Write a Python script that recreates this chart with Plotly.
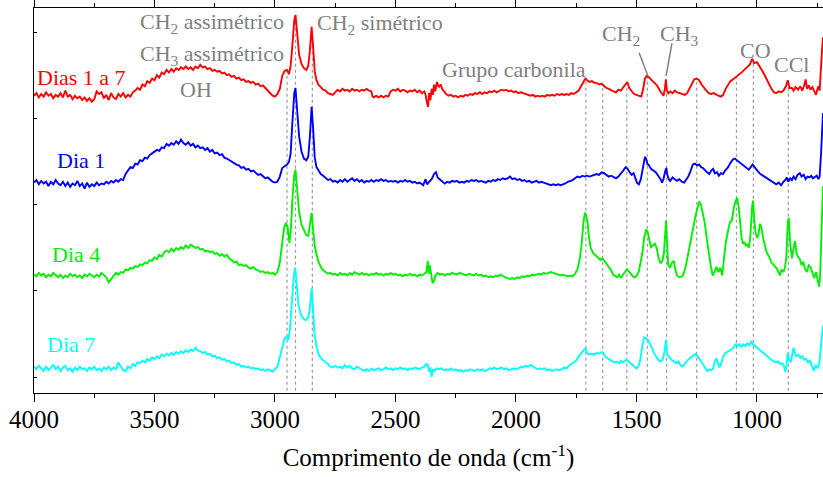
import numpy as np
import plotly.graph_objects as go

# FTIR spectra (wavenumber in cm-1, stacked absorbance in arbitrary units)
dias_1a7 = [
    (4000, 3.27), (3990, 3.30), (3980, 3.25), (3970, 3.29), (3960, 3.26), (3950, 3.31), (3940, 3.27),
    (3930, 3.29), (3920, 3.24), (3910, 3.28), (3900, 3.26), (3890, 3.30), (3880, 3.25), (3870, 3.33),
    (3860, 3.26), (3850, 3.28), (3840, 3.23), (3830, 3.27), (3820, 3.24), (3810, 3.26), (3800, 3.22),
    (3790, 3.25), (3780, 3.21), (3770, 3.24), (3760, 3.20), (3750, 3.23), (3740, 3.32), (3730, 3.29),
    (3720, 3.31), (3710, 3.24), (3700, 3.28), (3690, 3.22), (3680, 3.30), (3670, 3.25), (3660, 3.23),
    (3650, 3.29), (3640, 3.26), (3630, 3.30), (3620, 3.25), (3610, 3.28), (3600, 3.26), (3590, 3.31),
    (3580, 3.33), (3570, 3.36), (3560, 3.34), (3550, 3.40), (3540, 3.38), (3530, 3.44), (3520, 3.42),
    (3510, 3.47), (3500, 3.45), (3490, 3.51), (3480, 3.48), (3470, 3.54), (3460, 3.52), (3450, 3.57),
    (3440, 3.54), (3430, 3.58), (3420, 3.55), (3410, 3.59), (3400, 3.57), (3390, 3.60), (3380, 3.58),
    (3370, 3.61), (3360, 3.58), (3350, 3.60), (3340, 3.57), (3330, 3.61), (3320, 3.59), (3310, 3.63),
    (3300, 3.60), (3290, 3.61), (3280, 3.58), (3270, 3.59), (3260, 3.56), (3250, 3.57), (3240, 3.55),
    (3230, 3.56), (3220, 3.53), (3210, 3.54), (3200, 3.51), (3190, 3.52), (3180, 3.49), (3170, 3.50),
    (3160, 3.47), (3150, 3.48), (3140, 3.45), (3130, 3.46), (3120, 3.43), (3110, 3.44), (3100, 3.42),
    (3090, 3.43), (3080, 3.40), (3070, 3.41), (3060, 3.38), (3050, 3.39), (3040, 3.36), (3030, 3.33),
    (3020, 3.30), (3010, 3.27), (3000, 3.26), (2990, 3.29), (2980, 3.35), (2970, 3.50), (2960, 3.56),
    (2950, 3.57), (2942, 3.52), (2935, 3.62), (2928, 3.85), (2920, 4.15), (2915, 4.21), (2908, 3.98),
    (2900, 3.75), (2890, 3.64), (2880, 3.59), (2870, 3.57), (2862, 3.62), (2855, 3.80), (2848, 4.07),
    (2842, 3.85), (2835, 3.55), (2828, 3.45), (2820, 3.40), (2810, 3.37), (2800, 3.34), (2790, 3.33),
    (2780, 3.30), (2770, 3.29), (2760, 3.28), (2750, 3.31), (2740, 3.34), (2730, 3.32), (2720, 3.35),
    (2710, 3.33), (2700, 3.34), (2690, 3.32), (2680, 3.35), (2670, 3.33), (2660, 3.34), (2650, 3.32),
    (2640, 3.34), (2630, 3.33), (2620, 3.35), (2610, 3.33), (2600, 3.32), (2595, 3.26), (2590, 3.25),
    (2580, 3.27), (2570, 3.25), (2560, 3.27), (2550, 3.25), (2540, 3.27), (2530, 3.26), (2520, 3.32),
    (2510, 3.34), (2500, 3.33), (2490, 3.35), (2480, 3.32), (2470, 3.34), (2460, 3.33), (2450, 3.31),
    (2440, 3.33), (2430, 3.32), (2420, 3.34), (2410, 3.31), (2400, 3.33), (2390, 3.30), (2380, 3.32),
    (2375, 3.28), (2370, 3.20), (2365, 3.14), (2360, 3.30), (2355, 3.22), (2350, 3.35), (2345, 3.28),
    (2340, 3.40), (2335, 3.32), (2328, 3.43), (2320, 3.37), (2312, 3.40), (2305, 3.34), (2298, 3.32),
    (2290, 3.29), (2280, 3.27), (2270, 3.28), (2260, 3.26), (2250, 3.27), (2240, 3.25), (2230, 3.27),
    (2220, 3.26), (2210, 3.28), (2200, 3.27), (2190, 3.29), (2180, 3.28), (2170, 3.30), (2160, 3.29),
    (2150, 3.31), (2140, 3.29), (2130, 3.31), (2120, 3.30), (2110, 3.32), (2100, 3.31), (2090, 3.33),
    (2080, 3.31), (2070, 3.33), (2060, 3.34), (2050, 3.33), (2040, 3.34), (2030, 3.32), (2020, 3.33),
    (2010, 3.31), (2000, 3.32), (1990, 3.30), (1980, 3.31), (1970, 3.30), (1960, 3.29), (1950, 3.28),
    (1940, 3.27), (1930, 3.28), (1920, 3.26), (1910, 3.27), (1900, 3.26), (1890, 3.27), (1880, 3.26),
    (1870, 3.28), (1860, 3.27), (1850, 3.28), (1840, 3.27), (1830, 3.29), (1820, 3.28), (1810, 3.29),
    (1800, 3.28), (1790, 3.29), (1780, 3.28), (1770, 3.30), (1760, 3.29), (1750, 3.31), (1740, 3.33),
    (1730, 3.38), (1720, 3.44), (1712, 3.47), (1705, 3.45), (1695, 3.43), (1685, 3.44), (1675, 3.42),
    (1665, 3.42), (1655, 3.40), (1645, 3.41), (1635, 3.38), (1625, 3.36), (1615, 3.35), (1605, 3.33),
    (1595, 3.32), (1585, 3.31), (1575, 3.34), (1565, 3.33), (1555, 3.37), (1545, 3.41), (1538, 3.43),
    (1530, 3.36), (1520, 3.33), (1510, 3.29), (1500, 3.28), (1490, 3.27), (1480, 3.26), (1472, 3.35),
    (1465, 3.47), (1458, 3.50), (1450, 3.49), (1440, 3.46), (1432, 3.44), (1424, 3.42), (1415, 3.39),
    (1405, 3.34), (1395, 3.29), (1388, 3.27), (1382, 3.35), (1378, 3.46), (1374, 3.33), (1368, 3.30),
    (1360, 3.32), (1350, 3.30), (1341, 3.33), (1332, 3.31), (1320, 3.30), (1310, 3.29), (1300, 3.28),
    (1290, 3.30), (1280, 3.36), (1270, 3.42), (1260, 3.46), (1250, 3.47), (1240, 3.45), (1230, 3.40),
    (1220, 3.36), (1210, 3.33), (1200, 3.30), (1190, 3.29), (1180, 3.30), (1170, 3.28), (1160, 3.27),
    (1150, 3.26), (1140, 3.28), (1130, 3.35), (1120, 3.40), (1110, 3.44), (1100, 3.46), (1090, 3.48),
    (1080, 3.50), (1070, 3.53), (1060, 3.55), (1050, 3.58), (1040, 3.60), (1030, 3.63), (1020, 3.70),
    (1012, 3.65), (1000, 3.66), (990, 3.62), (980, 3.57), (970, 3.52), (960, 3.46), (950, 3.40),
    (940, 3.35), (930, 3.31), (920, 3.30), (910, 3.32), (900, 3.31), (890, 3.33), (880, 3.38),
    (872, 3.45), (865, 3.36), (855, 3.36), (848, 3.33), (840, 3.37), (830, 3.34), (820, 3.38),
    (812, 3.33), (805, 3.38), (798, 3.46), (792, 3.35), (785, 3.39), (778, 3.34), (770, 3.37),
    (762, 3.32), (755, 3.28), (750, 3.34), (745, 3.38), (740, 3.33), (734, 3.69), (730, 3.80),
    (726, 3.95),
]

dia_1 = [
    (4000, 2.26), (3990, 2.29), (3980, 2.24), (3970, 2.28), (3960, 2.25), (3950, 2.27), (3940, 2.22),
    (3930, 2.27), (3920, 2.24), (3910, 2.29), (3900, 2.25), (3890, 2.23), (3880, 2.27), (3870, 2.22),
    (3860, 2.26), (3850, 2.21), (3840, 2.25), (3830, 2.23), (3820, 2.28), (3810, 2.22), (3800, 2.25),
    (3790, 2.19), (3780, 2.26), (3770, 2.21), (3760, 2.24), (3750, 2.22), (3740, 2.26), (3730, 2.23),
    (3720, 2.25), (3710, 2.24), (3700, 2.27), (3690, 2.25), (3680, 2.28), (3670, 2.26), (3660, 2.29),
    (3650, 2.27), (3640, 2.30), (3630, 2.29), (3620, 2.36), (3610, 2.40), (3600, 2.44), (3590, 2.43),
    (3580, 2.48), (3570, 2.47), (3560, 2.52), (3550, 2.51), (3540, 2.55), (3530, 2.54), (3520, 2.58),
    (3510, 2.60), (3500, 2.62), (3490, 2.64), (3480, 2.63), (3470, 2.67), (3460, 2.66), (3450, 2.71),
    (3440, 2.69), (3430, 2.72), (3420, 2.70), (3410, 2.74), (3400, 2.71), (3390, 2.76), (3380, 2.72),
    (3370, 2.70), (3360, 2.73), (3350, 2.69), (3340, 2.71), (3330, 2.67), (3320, 2.69), (3310, 2.66),
    (3300, 2.67), (3290, 2.64), (3280, 2.66), (3270, 2.62), (3260, 2.64), (3250, 2.60), (3240, 2.61),
    (3230, 2.58), (3220, 2.59), (3210, 2.55), (3200, 2.54), (3190, 2.52), (3180, 2.50), (3170, 2.49),
    (3160, 2.47), (3150, 2.46), (3140, 2.43), (3130, 2.44), (3120, 2.41), (3110, 2.42), (3100, 2.39),
    (3090, 2.40), (3080, 2.37), (3070, 2.35), (3060, 2.36), (3050, 2.33), (3040, 2.31), (3030, 2.32),
    (3020, 2.29), (3010, 2.27), (3000, 2.26), (2990, 2.27), (2980, 2.33), (2970, 2.43), (2960, 2.45),
    (2950, 2.47), (2942, 2.50), (2935, 2.60), (2928, 2.95), (2920, 3.30), (2915, 3.36), (2908, 3.10),
    (2900, 2.80), (2890, 2.62), (2880, 2.54), (2870, 2.52), (2862, 2.56), (2855, 2.80), (2848, 3.14),
    (2842, 2.90), (2835, 2.55), (2828, 2.44), (2820, 2.40), (2810, 2.36), (2800, 2.34), (2790, 2.31),
    (2780, 2.29), (2770, 2.30), (2760, 2.27), (2750, 2.28), (2740, 2.26), (2730, 2.29), (2720, 2.27),
    (2710, 2.30), (2700, 2.27), (2690, 2.29), (2680, 2.31), (2670, 2.28), (2660, 2.30), (2650, 2.27),
    (2640, 2.29), (2630, 2.26), (2620, 2.28), (2610, 2.27), (2600, 2.29), (2590, 2.27), (2580, 2.29),
    (2570, 2.28), (2560, 2.30), (2550, 2.28), (2540, 2.29), (2530, 2.27), (2520, 2.28), (2510, 2.27),
    (2500, 2.28), (2490, 2.26), (2480, 2.28), (2470, 2.27), (2460, 2.29), (2450, 2.27), (2440, 2.28),
    (2430, 2.26), (2420, 2.27), (2410, 2.25), (2400, 2.26), (2390, 2.24), (2385, 2.23), (2375, 2.30),
    (2369, 2.24), (2360, 2.27), (2350, 2.30), (2340, 2.36), (2332, 2.38), (2325, 2.32), (2315, 2.29),
    (2305, 2.27), (2295, 2.25), (2285, 2.27), (2275, 2.26), (2265, 2.28), (2255, 2.27), (2245, 2.28),
    (2235, 2.26), (2225, 2.27), (2215, 2.26), (2205, 2.28), (2195, 2.27), (2185, 2.29), (2175, 2.28),
    (2165, 2.29), (2155, 2.27), (2145, 2.28), (2135, 2.27), (2125, 2.26), (2115, 2.28), (2105, 2.27),
    (2095, 2.29), (2085, 2.28), (2075, 2.30), (2065, 2.29), (2055, 2.31), (2045, 2.30), (2035, 2.31),
    (2025, 2.33), (2015, 2.30), (2005, 2.31), (1995, 2.29), (1985, 2.30), (1975, 2.28), (1965, 2.29),
    (1955, 2.27), (1945, 2.28), (1935, 2.26), (1925, 2.27), (1915, 2.28), (1905, 2.26), (1895, 2.27),
    (1885, 2.26), (1875, 2.25), (1865, 2.24), (1855, 2.23), (1845, 2.24), (1835, 2.23), (1825, 2.24),
    (1815, 2.23), (1805, 2.24), (1795, 2.25), (1785, 2.27), (1775, 2.28), (1765, 2.29), (1755, 2.31),
    (1745, 2.33), (1735, 2.32), (1725, 2.34), (1715, 2.33), (1705, 2.34), (1695, 2.33), (1685, 2.34),
    (1675, 2.35), (1665, 2.36), (1655, 2.35), (1645, 2.38), (1635, 2.37), (1625, 2.35), (1615, 2.33),
    (1605, 2.34), (1595, 2.32), (1585, 2.31), (1575, 2.33), (1565, 2.36), (1555, 2.40), (1545, 2.44),
    (1537, 2.42), (1528, 2.38), (1520, 2.35), (1512, 2.37), (1505, 2.32), (1498, 2.26), (1490, 2.24),
    (1482, 2.30), (1472, 2.45), (1465, 2.56), (1460, 2.54), (1455, 2.48), (1448, 2.46), (1440, 2.42),
    (1430, 2.40), (1420, 2.38), (1410, 2.34), (1400, 2.30), (1394, 2.26), (1388, 2.30), (1380, 2.40),
    (1376, 2.43), (1372, 2.35), (1366, 2.30), (1360, 2.28), (1350, 2.32), (1341, 2.30), (1332, 2.28),
    (1322, 2.30), (1312, 2.27), (1302, 2.26), (1295, 2.29), (1285, 2.33), (1275, 2.40), (1266, 2.47),
    (1257, 2.48), (1248, 2.46), (1240, 2.47), (1232, 2.44), (1224, 2.43), (1215, 2.40), (1207, 2.38),
    (1198, 2.36), (1190, 2.40), (1182, 2.42), (1175, 2.37), (1166, 2.38), (1158, 2.34), (1150, 2.37),
    (1141, 2.36), (1132, 2.40), (1120, 2.44), (1110, 2.49), (1100, 2.53), (1092, 2.54), (1083, 2.52),
    (1075, 2.50), (1066, 2.48), (1058, 2.46), (1050, 2.44), (1042, 2.43), (1034, 2.41), (1026, 2.44),
    (1018, 2.47), (1010, 2.44), (1000, 2.40), (990, 2.37), (980, 2.35), (970, 2.33), (960, 2.32),
    (950, 2.30), (940, 2.28), (930, 2.26), (920, 2.24), (910, 2.26), (900, 2.23), (890, 2.27),
    (882, 2.29), (876, 2.32), (870, 2.27), (862, 2.31), (855, 2.29), (848, 2.33), (840, 2.30),
    (832, 2.35), (822, 2.37), (815, 2.33), (806, 2.35), (798, 2.30), (790, 2.33), (782, 2.32),
    (775, 2.34), (768, 2.31), (760, 2.33), (752, 2.34), (745, 2.30), (740, 2.33), (734, 2.60),
    (730, 2.85), (726, 3.07),
]

dia_4 = [
    (4000, 1.19), (3990, 1.17), (3980, 1.21), (3970, 1.18), (3960, 1.20), (3950, 1.16), (3940, 1.19),
    (3930, 1.17), (3920, 1.21), (3910, 1.18), (3900, 1.16), (3890, 1.19), (3880, 1.15), (3870, 1.18),
    (3860, 1.16), (3850, 1.20), (3840, 1.17), (3830, 1.19), (3820, 1.16), (3810, 1.18), (3800, 1.15),
    (3790, 1.19), (3780, 1.17), (3770, 1.20), (3760, 1.18), (3750, 1.16), (3740, 1.19), (3730, 1.17),
    (3720, 1.21), (3710, 1.18), (3700, 1.16), (3690, 1.10), (3680, 1.14), (3670, 1.17), (3660, 1.21),
    (3650, 1.19), (3640, 1.22), (3630, 1.21), (3620, 1.25), (3610, 1.24), (3600, 1.27), (3590, 1.26),
    (3580, 1.29), (3570, 1.28), (3560, 1.31), (3550, 1.30), (3540, 1.33), (3530, 1.32), (3520, 1.36),
    (3510, 1.35), (3500, 1.39), (3490, 1.37), (3480, 1.42), (3470, 1.40), (3460, 1.45), (3450, 1.47),
    (3440, 1.45), (3430, 1.49), (3420, 1.46), (3410, 1.50), (3400, 1.48), (3390, 1.51), (3380, 1.49),
    (3370, 1.53), (3360, 1.50), (3350, 1.54), (3340, 1.52), (3330, 1.50), (3320, 1.51), (3310, 1.48),
    (3300, 1.49), (3290, 1.46), (3280, 1.47), (3270, 1.45), (3260, 1.46), (3250, 1.43), (3240, 1.44),
    (3230, 1.41), (3220, 1.43), (3210, 1.40), (3200, 1.42), (3190, 1.38), (3180, 1.36), (3170, 1.33),
    (3160, 1.34), (3150, 1.30), (3140, 1.31), (3130, 1.29), (3120, 1.30), (3110, 1.27), (3100, 1.26),
    (3090, 1.28), (3080, 1.25), (3070, 1.24), (3060, 1.22), (3050, 1.23), (3040, 1.21), (3030, 1.22),
    (3020, 1.20), (3010, 1.21), (3000, 1.19), (2990, 1.22), (2980, 1.33), (2970, 1.55), (2962, 1.74),
    (2955, 1.79), (2948, 1.75), (2940, 1.56), (2934, 1.72), (2928, 2.05), (2920, 2.35), (2915, 2.41),
    (2908, 2.15), (2900, 1.92), (2890, 1.77), (2880, 1.70), (2870, 1.65), (2862, 1.64), (2855, 1.75),
    (2848, 1.91), (2842, 1.72), (2835, 1.52), (2828, 1.43), (2820, 1.34), (2810, 1.28), (2800, 1.24),
    (2790, 1.22), (2780, 1.20), (2770, 1.21), (2760, 1.19), (2750, 1.20), (2740, 1.18), (2730, 1.21),
    (2720, 1.19), (2710, 1.20), (2700, 1.18), (2690, 1.21), (2680, 1.19), (2670, 1.22), (2660, 1.20),
    (2650, 1.19), (2640, 1.21), (2630, 1.19), (2620, 1.20), (2610, 1.18), (2600, 1.20), (2590, 1.19),
    (2580, 1.21), (2570, 1.19), (2560, 1.20), (2550, 1.18), (2540, 1.20), (2530, 1.19), (2520, 1.21),
    (2510, 1.19), (2500, 1.20), (2490, 1.18), (2480, 1.19), (2470, 1.17), (2460, 1.19), (2450, 1.18),
    (2440, 1.20), (2430, 1.18), (2420, 1.19), (2410, 1.17), (2400, 1.19), (2390, 1.18), (2380, 1.20),
    (2372, 1.22), (2366, 1.35), (2362, 1.20), (2358, 1.30), (2352, 1.17), (2346, 1.09), (2340, 1.12),
    (2334, 1.18), (2325, 1.21), (2315, 1.19), (2305, 1.20), (2295, 1.18), (2285, 1.20), (2275, 1.19),
    (2265, 1.21), (2255, 1.20), (2245, 1.19), (2235, 1.21), (2225, 1.20), (2215, 1.19), (2205, 1.18),
    (2195, 1.20), (2185, 1.19), (2175, 1.18), (2165, 1.20), (2155, 1.18), (2145, 1.19), (2135, 1.17),
    (2125, 1.18), (2115, 1.16), (2105, 1.17), (2095, 1.16), (2085, 1.18), (2075, 1.17), (2065, 1.19),
    (2055, 1.17), (2045, 1.16), (2035, 1.15), (2025, 1.14), (2015, 1.15), (2005, 1.14), (1995, 1.16),
    (1985, 1.15), (1975, 1.17), (1965, 1.16), (1955, 1.18), (1945, 1.17), (1935, 1.19), (1925, 1.18),
    (1915, 1.19), (1905, 1.20), (1895, 1.19), (1885, 1.21), (1875, 1.20), (1865, 1.21), (1855, 1.22),
    (1845, 1.21), (1835, 1.20), (1825, 1.19), (1815, 1.18), (1805, 1.19), (1795, 1.18), (1785, 1.17),
    (1775, 1.18), (1765, 1.17), (1755, 1.20), (1745, 1.25), (1735, 1.38), (1727, 1.56), (1720, 1.80),
    (1714, 1.91), (1709, 1.88), (1703, 1.80), (1697, 1.62), (1690, 1.50), (1680, 1.44), (1670, 1.42),
    (1660, 1.39), (1650, 1.36), (1643, 1.38), (1635, 1.36), (1625, 1.32), (1615, 1.28), (1605, 1.24),
    (1597, 1.19), (1590, 1.18), (1580, 1.16), (1572, 1.19), (1565, 1.15), (1558, 1.18), (1550, 1.21),
    (1540, 1.25), (1532, 1.23), (1524, 1.20), (1515, 1.17), (1506, 1.16), (1498, 1.18), (1490, 1.23),
    (1482, 1.34), (1475, 1.45), (1468, 1.62), (1460, 1.71), (1455, 1.70), (1448, 1.62), (1440, 1.51),
    (1432, 1.53), (1424, 1.55), (1416, 1.50), (1408, 1.38), (1400, 1.32), (1392, 1.35), (1386, 1.45),
    (1380, 1.70), (1377, 1.82), (1373, 1.55), (1368, 1.30), (1361, 1.27), (1353, 1.33), (1345, 1.35),
    (1340, 1.26), (1332, 1.18), (1322, 1.16), (1312, 1.17), (1304, 1.20), (1296, 1.28), (1288, 1.40),
    (1280, 1.52), (1272, 1.64), (1264, 1.78), (1256, 1.86), (1248, 1.95), (1240, 2.04), (1232, 2.00),
    (1224, 1.90), (1216, 1.78), (1208, 1.60), (1200, 1.43), (1192, 1.30), (1184, 1.18), (1176, 1.22),
    (1168, 1.28), (1160, 1.22), (1152, 1.27), (1144, 1.18), (1138, 1.35), (1130, 1.55), (1120, 1.70),
    (1112, 1.80), (1104, 1.82), (1096, 1.97), (1088, 2.05), (1082, 2.08), (1076, 1.98), (1070, 1.82),
    (1064, 1.62), (1058, 1.55), (1052, 1.57), (1046, 1.52), (1040, 1.55), (1034, 1.50), (1028, 1.62),
    (1020, 1.98), (1016, 2.05), (1012, 1.85), (1006, 1.68), (1000, 1.62), (994, 1.65), (988, 1.78),
    (982, 1.75), (975, 1.62), (968, 1.52), (960, 1.45), (950, 1.40), (940, 1.33), (930, 1.30),
    (920, 1.27), (912, 1.23), (905, 1.18), (898, 1.25), (890, 1.22), (884, 1.27), (878, 1.40),
    (872, 1.80), (868, 1.85), (862, 1.55), (855, 1.38), (848, 1.50), (842, 1.58), (836, 1.44),
    (830, 1.40), (822, 1.37), (815, 1.30), (808, 1.34), (800, 1.25), (793, 1.22), (785, 1.30),
    (778, 1.28), (770, 1.20), (762, 1.15), (755, 1.22), (748, 1.10), (742, 1.05), (738, 1.18),
    (734, 1.50), (730, 1.90), (726, 2.22),
]

dia_7 = [
    (4000, 0.12), (3990, 0.09), (3980, 0.13), (3970, 0.10), (3960, 0.07), (3950, 0.12), (3940, 0.08),
    (3930, 0.11), (3920, 0.14), (3910, 0.09), (3900, 0.12), (3890, 0.07), (3880, 0.11), (3870, 0.13),
    (3860, 0.08), (3850, 0.10), (3840, 0.06), (3830, 0.11), (3820, 0.08), (3810, 0.12), (3800, 0.09),
    (3790, 0.10), (3780, 0.07), (3770, 0.11), (3760, 0.09), (3750, 0.12), (3740, 0.08), (3730, 0.10),
    (3720, 0.07), (3710, 0.11), (3700, 0.09), (3690, 0.12), (3680, 0.08), (3670, 0.11), (3660, 0.09),
    (3650, 0.17), (3640, 0.12), (3630, 0.08), (3620, 0.07), (3610, 0.12), (3600, 0.10), (3590, 0.15),
    (3580, 0.13), (3570, 0.17), (3560, 0.16), (3550, 0.19), (3540, 0.17), (3530, 0.21), (3520, 0.19),
    (3510, 0.23), (3500, 0.21), (3490, 0.24), (3480, 0.22), (3470, 0.26), (3460, 0.24), (3450, 0.27),
    (3440, 0.25), (3430, 0.28), (3420, 0.26), (3410, 0.29), (3400, 0.27), (3390, 0.30), (3380, 0.28),
    (3370, 0.31), (3360, 0.29), (3350, 0.32), (3340, 0.30), (3330, 0.34), (3320, 0.31), (3310, 0.30),
    (3300, 0.28), (3290, 0.29), (3280, 0.26), (3270, 0.27), (3260, 0.24), (3250, 0.25), (3240, 0.22),
    (3230, 0.23), (3220, 0.20), (3210, 0.21), (3200, 0.18), (3190, 0.19), (3180, 0.16), (3170, 0.17),
    (3160, 0.14), (3150, 0.15), (3140, 0.12), (3130, 0.13), (3120, 0.11), (3110, 0.12), (3100, 0.10),
    (3090, 0.11), (3080, 0.09), (3070, 0.10), (3060, 0.08), (3050, 0.09), (3040, 0.07), (3030, 0.09),
    (3020, 0.08), (3010, 0.06), (3000, 0.09), (2990, 0.12), (2980, 0.23), (2970, 0.36), (2960, 0.45),
    (2952, 0.47), (2945, 0.43), (2938, 0.55), (2930, 0.85), (2922, 1.18), (2916, 1.27), (2910, 1.05),
    (2902, 0.83), (2892, 0.72), (2882, 0.68), (2872, 0.66), (2862, 0.69), (2855, 0.80), (2848, 1.03),
    (2842, 0.78), (2836, 0.50), (2828, 0.36), (2820, 0.27), (2810, 0.22), (2800, 0.19), (2790, 0.17),
    (2780, 0.15), (2770, 0.12), (2760, 0.11), (2750, 0.13), (2740, 0.11), (2730, 0.12), (2720, 0.10),
    (2710, 0.14), (2700, 0.11), (2690, 0.13), (2680, 0.10), (2670, 0.09), (2660, 0.12), (2650, 0.10),
    (2640, 0.08), (2630, 0.07), (2620, 0.09), (2610, 0.07), (2600, 0.10), (2590, 0.08), (2580, 0.09),
    (2570, 0.10), (2560, 0.08), (2550, 0.09), (2540, 0.11), (2530, 0.09), (2520, 0.10), (2510, 0.08),
    (2500, 0.10), (2490, 0.09), (2480, 0.11), (2470, 0.09), (2460, 0.10), (2450, 0.08), (2440, 0.10),
    (2430, 0.09), (2420, 0.11), (2410, 0.10), (2400, 0.09), (2390, 0.11), (2380, 0.12), (2372, 0.15),
    (2366, 0.14), (2360, 0.06), (2355, 0.11), (2350, 0.00), (2345, 0.09), (2338, 0.07), (2330, 0.10),
    (2320, 0.09), (2310, 0.10), (2300, 0.08), (2290, 0.09), (2280, 0.08), (2270, 0.10), (2260, 0.08),
    (2250, 0.09), (2240, 0.07), (2230, 0.08), (2220, 0.06), (2210, 0.08), (2200, 0.07), (2190, 0.09),
    (2180, 0.08), (2170, 0.07), (2160, 0.09), (2150, 0.08), (2140, 0.09), (2130, 0.07), (2120, 0.08),
    (2110, 0.10), (2100, 0.09), (2090, 0.11), (2080, 0.09), (2070, 0.10), (2060, 0.11), (2050, 0.09),
    (2040, 0.10), (2030, 0.08), (2020, 0.09), (2010, 0.10), (2000, 0.09), (1990, 0.10), (1980, 0.12),
    (1970, 0.11), (1960, 0.13), (1950, 0.12), (1940, 0.14), (1930, 0.12), (1920, 0.11), (1910, 0.09),
    (1900, 0.10), (1890, 0.09), (1880, 0.10), (1870, 0.08), (1860, 0.09), (1850, 0.07), (1840, 0.08),
    (1830, 0.09), (1820, 0.08), (1810, 0.09), (1800, 0.11), (1790, 0.10), (1780, 0.13), (1770, 0.15),
    (1760, 0.17), (1750, 0.19), (1740, 0.24), (1730, 0.28), (1720, 0.31), (1712, 0.33), (1705, 0.28),
    (1695, 0.26), (1685, 0.27), (1675, 0.26), (1665, 0.28), (1655, 0.27), (1645, 0.29), (1638, 0.28),
    (1630, 0.24), (1622, 0.22), (1612, 0.20), (1602, 0.19), (1592, 0.17), (1582, 0.18), (1572, 0.16),
    (1565, 0.19), (1556, 0.17), (1548, 0.19), (1540, 0.20), (1532, 0.18), (1524, 0.16), (1516, 0.13),
    (1508, 0.11), (1500, 0.10), (1492, 0.12), (1484, 0.20), (1476, 0.36), (1468, 0.46), (1460, 0.45),
    (1452, 0.43), (1444, 0.38), (1436, 0.34), (1428, 0.28), (1420, 0.24), (1410, 0.20), (1400, 0.18),
    (1392, 0.20), (1386, 0.26), (1380, 0.37), (1377, 0.43), (1373, 0.26), (1366, 0.23), (1358, 0.21),
    (1350, 0.19), (1342, 0.17), (1334, 0.16), (1326, 0.18), (1318, 0.14), (1310, 0.12), (1302, 0.15),
    (1294, 0.18), (1286, 0.20), (1278, 0.22), (1270, 0.24), (1262, 0.26), (1254, 0.27), (1246, 0.24),
    (1238, 0.21), (1230, 0.18), (1222, 0.14), (1214, 0.10), (1206, 0.07), (1198, 0.09), (1190, 0.08),
    (1182, 0.10), (1175, 0.18), (1168, 0.22), (1162, 0.15), (1156, 0.11), (1150, 0.14), (1140, 0.24),
    (1130, 0.28), (1120, 0.30), (1110, 0.32), (1100, 0.33), (1092, 0.37), (1086, 0.38), (1080, 0.36),
    (1072, 0.38), (1064, 0.35), (1056, 0.38), (1048, 0.36), (1040, 0.39), (1032, 0.37), (1024, 0.41),
    (1016, 0.38), (1008, 0.36), (1000, 0.35), (992, 0.33), (984, 0.31), (976, 0.29), (968, 0.27),
    (960, 0.25), (952, 0.23), (944, 0.21), (936, 0.19), (928, 0.18), (920, 0.17), (912, 0.18),
    (904, 0.15), (896, 0.16), (888, 0.13), (882, 0.06), (878, 0.12), (872, 0.28), (866, 0.20),
    (860, 0.17), (854, 0.25), (848, 0.34), (842, 0.27), (836, 0.24), (828, 0.26), (820, 0.22),
    (812, 0.24), (804, 0.20), (796, 0.21), (788, 0.17), (780, 0.19), (772, 0.12), (764, 0.07),
    (756, 0.14), (748, 0.10), (742, 0.14), (736, 0.30), (731, 0.50), (726, 0.60),
]

# Band positions marked with dotted guide lines (cm-1)
bandas = [2950, 2915, 2845, 1710, 1640, 1540, 1455, 1375, 1250, 1085, 1015, 870]

series = [
    ("Dias 1 a 7", dias_1a7, "#ff0000"),
    ("Dia 1", dia_1, "#0000ff"),
    ("Dia 4", dia_4, "#00f000"),
    ("Dia 7", dia_7, "#00ffff"),
]

FONT = "Liberation Serif, Times New Roman, serif"
GRAY = "#808080"

fig = go.Figure()
for nome, dados, cor in series:
    wn = [p[0] for p in dados]
    ab = [p[1] for p in dados]
    fig.add_trace(go.Scatter(x=wn, y=ab, mode="lines", name=nome,
                             line=dict(color=cor, width=1.9), showlegend=False))

# dotted guides from the bottom axis up to the top spectrum
ref = sorted(dias_1a7)
ref_x = np.array([p[0] for p in ref])
ref_y = np.array([p[1] for p in ref])
y_min, y_max = -0.186, 4.29
for b in bandas:
    topo = float(np.interp(b, ref_x, ref_y))
    fig.add_shape(type="line", xref="x", yref="y", x0=b, x1=b, y0=-0.16, y1=topo,
                  line=dict(color="#9a9a9a", width=1.2, dash="dot"), layer="below")

# leader lines for the CH2 / CH3 bending labels
fig.add_shape(type="line", xref="x", yref="y", x0=1489, y0=3.77, x1=1454, y1=3.51,
              line=dict(color=GRAY, width=1.5))
fig.add_shape(type="line", xref="x", yref="y", x0=1353, y0=3.88, x1=1377, y1=3.50,
              line=dict(color=GRAY, width=1.5))

anot = [
    ("CH<sub>2</sub> assimétrico", 3262, 4.12, "center"),
    ("CH<sub>3</sub> assimétrico", 3262, 3.74, "center"),
    ("OH", 3328, 3.34, "center"),
    ("CH<sub>2</sub> simétrico", 2834, 4.10, "left"),
    ("Grupo carbonila", 2008, 3.57, "center"),
    ("CH<sub>2</sub>", 1651, 3.98, "left"),
    ("CH<sub>3</sub>", 1411, 3.98, "left"),
    ("CO", 1007, 3.80, "center"),
    ("CCl", 857, 3.63, "center"),
]
for txt, x, y, xa in anot:
    fig.add_annotation(x=x, y=y, xref="x", yref="y", text=txt, showarrow=False,
                       xanchor=xa, yanchor="middle",
                       font=dict(family=FONT, size=22, color=GRAY))

rotulos = [
    ("Dias 1 a 7", 3997, 3.48, "#ff0000"),
    ("Dia 1", 3914, 2.52, "#0000ff"),
    ("Dia 4", 3935, 1.42, "#00f000"),
    ("Dia 7", 3956, 0.38, "#00ffff"),
]
for txt, x, y, cor in rotulos:
    fig.add_annotation(x=x, y=y, xref="x", yref="y", text=txt, showarrow=False,
                       xanchor="left", yanchor="middle",
                       font=dict(family=FONT, size=22, color=cor))

fig.update_layout(
    width=823, height=477,
    margin=dict(l=34, r=0, t=8, b=84),
    paper_bgcolor="white", plot_bgcolor="white",
    font=dict(family=FONT, color="black"),
)
fig.update_xaxes(
    range=[4000, 726], dtick=500, tick0=0,
    ticks="outside", ticklen=8, tickwidth=1.2, tickcolor="black",
    minor=dict(dtick=250, ticks="outside", ticklen=4, tickwidth=1.2, tickcolor="black"),
    showline=True, linecolor="black", linewidth=1.2, mirror="ticks",
    showgrid=False, zeroline=False,
    tickfont=dict(family=FONT, size=25, color="black"),
    ticklabelstandoff=-4,
    title=dict(text="Comprimento de onda (cm<sup>-1</sup>)",
               font=dict(family=FONT, size=25, color="black"), standoff=16),
)
fig.update_yaxes(
    range=[y_min, y_max], dtick=1, tick0=0,
    ticks="inside", ticklen=3, tickwidth=1.2, tickcolor="black",
    showline=True, linecolor="black", linewidth=1.2, mirror=False,
    showticklabels=False, showgrid=False, zeroline=False,
)

fig.write_html("out.html")
